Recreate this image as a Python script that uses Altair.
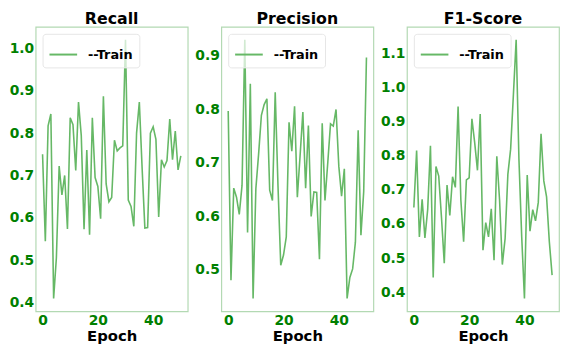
import altair as alt
import pandas as pd

epochs = list(range(51))

recall = [0.75, 0.545, 0.817, 0.845, 0.41, 0.506, 0.722, 0.654, 0.70, 0.574,
          0.836, 0.82, 0.712, 0.873, 0.794, 0.573, 0.76, 0.56, 0.836, 0.695,
          0.674, 0.598, 0.887, 0.68, 0.638, 0.648, 0.783, 0.758, 0.765, 0.77,
          1.02, 0.642, 0.627, 0.58, 0.80, 0.873, 0.718, 0.576, 0.577, 0.80,
          0.815, 0.785, 0.602, 0.737, 0.72, 0.735, 0.833, 0.737, 0.805, 0.713,
          0.746]

precision = [0.797, 0.481, 0.653, 0.636, 0.604, 0.658, 0.93, 0.57, 0.848, 0.447,
             0.652, 0.717, 0.789, 0.809, 0.82, 0.649, 0.63, 0.832, 0.658, 0.509,
             0.528, 0.562, 0.776, 0.722, 0.806, 0.636, 0.714, 0.795, 0.653, 0.77,
             0.60, 0.646, 0.645, 0.52, 0.774, 0.63, 0.70, 0.773, 0.769, 0.80,
             0.694, 0.638, 0.689, 0.447, 0.486, 0.502, 0.552, 0.761, 0.565, 0.646,
             0.897]

f1 = [0.648, 0.815, 0.562, 0.672, 0.559, 0.642, 0.829, 0.443, 0.768, 0.74,
      0.618, 0.485, 0.714, 0.625, 0.738, 0.707, 0.944, 0.67, 0.548, 0.729,
      0.735, 0.908, 0.838, 0.757, 0.922, 0.523, 0.604, 0.562, 0.644, 0.494,
      0.798, 0.67, 0.481, 0.557, 0.745, 0.819, 0.978, 1.139, 0.791, 0.564,
      0.382, 0.743, 0.579, 0.642, 0.609, 0.663, 0.864, 0.726, 0.679, 0.548,
      0.45]

titles = ["Recall", "Precision", "F1-Score"]
y_ticks = [
    [0.4, 0.5, 0.6, 0.7, 0.8, 0.9, 1.0],
    [0.5, 0.6, 0.7, 0.8, 0.9],
    [0.4, 0.5, 0.6, 0.7, 0.8, 0.9, 1.0, 1.1],
]
x_ticks = [0, 20, 40]
series_name = "--Train"

LINE = "#66b866"
FONT = "DejaVu Sans"


def panel(values, title, yt):
    lo, hi = min(values), max(values)
    m = (hi - lo) * 0.05
    df = pd.DataFrame({"Epoch": epochs, "v": values, "s": series_name})
    return (
        alt.Chart(df, title=alt.Title(title, fontSize=16, fontWeight="bold",
                                      font=FONT, color="black", offset=0,
                                      frame="group"))
        .mark_line(strokeWidth=1.6)
        .encode(
            x=alt.X("Epoch:Q", scale=alt.Scale(domain=[-2.5, 52.5], nice=False, zero=False),
                    axis=alt.Axis(values=x_ticks, title="Epoch", format="d")),
            y=alt.Y("v:Q", scale=alt.Scale(domain=[lo - m, hi + m], nice=False, zero=False),
                    axis=alt.Axis(values=yt, title=None, format=".1f")),
            color=alt.Color("s:N", scale=alt.Scale(range=[LINE]),
                            legend=alt.Legend(title=None, orient="top-left", offset=7,
                                              symbolType="stroke", symbolSize=784,
                                              symbolStrokeWidth=2, labelFontSize=13,
                                              labelFontWeight="bold", labelFont=FONT,
                                              labelColor="black", padding=6,
                                              labelOffset=10,
                                              strokeColor="#e6e6e6",
                                              fillColor="rgba(255,255,255,0.7)",
                                              cornerRadius=3)),
        )
        .properties(width=154, height=288)
    )


charts = [panel(v, t, yt) for v, t, yt in zip([recall, precision, f1], titles, y_ticks)]

chart = (
    alt.hconcat(*charts, spacing=5)
    .resolve_scale(color="independent", y="independent")
    .properties(padding=0)
    .configure_view(stroke="#b3d9b3", strokeWidth=1.2)
    .configure_axis(grid=False, ticks=False, domain=False, labelColor="green",
                    labelFontWeight="bold", labelFontSize=14, labelFont=FONT,
                    labelPadding=2, titleFont=FONT, titleFontSize=15,
                    titleFontWeight="bold", titleColor="black", titlePadding=2)
)

chart.save("out.html", embed_options={"renderer": "svg", "actions": False})
